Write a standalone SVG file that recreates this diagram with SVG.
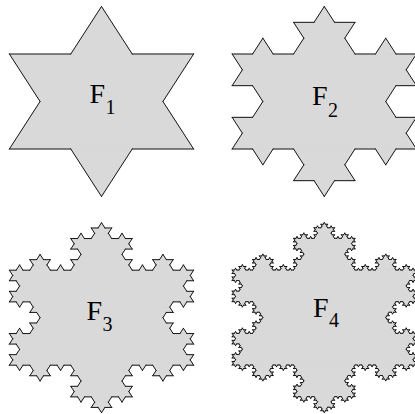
<svg xmlns="http://www.w3.org/2000/svg" xmlns:xlink="http://www.w3.org/1999/xlink" width="415" height="414" viewBox="0 0 415 414">
<style>
.edge{fill:none;stroke:#151515;stroke-width:1;stroke-linecap:round;stroke-linejoin:round}
.area{fill:#d9d9d9;stroke:#d9d9d9;stroke-width:0.6}
.lbl{font-family:"Liberation Serif","Times New Roman",serif;fill:#000}
</style>
<defs>
  <path id="k0" class="edge" d="M0,0H1" vector-effect="non-scaling-stroke"/>
  <g id="k1">
    <use href="#k0" transform="scale(0.333333)"/>
    <use href="#k0" transform="translate(0.333333,0) rotate(-60) scale(0.333333)"/>
    <use href="#k0" transform="translate(0.5,-0.288675) rotate(60) scale(0.333333)"/>
    <use href="#k0" transform="translate(0.666667,0) scale(0.333333)"/>
  </g>
  <g id="k2">
    <use href="#k1" transform="scale(0.333333)"/>
    <use href="#k1" transform="translate(0.333333,0) rotate(-60) scale(0.333333)"/>
    <use href="#k1" transform="translate(0.5,-0.288675) rotate(60) scale(0.333333)"/>
    <use href="#k1" transform="translate(0.666667,0) scale(0.333333)"/>
  </g>
  <g id="k3">
    <use href="#k2" transform="scale(0.333333)"/>
    <use href="#k2" transform="translate(0.333333,0) rotate(-60) scale(0.333333)"/>
    <use href="#k2" transform="translate(0.5,-0.288675) rotate(60) scale(0.333333)"/>
    <use href="#k2" transform="translate(0.666667,0) scale(0.333333)"/>
  </g>
  <g id="k4">
    <use href="#k3" transform="scale(0.333333)"/>
    <use href="#k3" transform="translate(0.333333,0) rotate(-60) scale(0.333333)"/>
    <use href="#k3" transform="translate(0.5,-0.288675) rotate(60) scale(0.333333)"/>
    <use href="#k3" transform="translate(0.666667,0) scale(0.333333)"/>
  </g>
  <polygon id="bump" class="area" points="0.333333,0 0.5,-0.288675 0.666667,0" vector-effect="non-scaling-stroke"/>
  <g id="t1"><use href="#bump"/></g>
  <g id="t2">
    <use href="#bump"/>
    <use href="#t1" transform="scale(0.333333)"/>
    <use href="#t1" transform="translate(0.333333,0) rotate(-60) scale(0.333333)"/>
    <use href="#t1" transform="translate(0.5,-0.288675) rotate(60) scale(0.333333)"/>
    <use href="#t1" transform="translate(0.666667,0) scale(0.333333)"/>
  </g>
  <g id="t3">
    <use href="#bump"/>
    <use href="#t2" transform="scale(0.333333)"/>
    <use href="#t2" transform="translate(0.333333,0) rotate(-60) scale(0.333333)"/>
    <use href="#t2" transform="translate(0.5,-0.288675) rotate(60) scale(0.333333)"/>
    <use href="#t2" transform="translate(0.666667,0) scale(0.333333)"/>
  </g>
  <g id="t4">
    <use href="#bump"/>
    <use href="#t3" transform="scale(0.333333)"/>
    <use href="#t3" transform="translate(0.333333,0) rotate(-60) scale(0.333333)"/>
    <use href="#t3" transform="translate(0.5,-0.288675) rotate(60) scale(0.333333)"/>
    <use href="#t3" transform="translate(0.666667,0) scale(0.333333)"/>
  </g>
  <polygon id="base" class="area" points="0,-1 0.866025,0.5 -0.866025,0.5" vector-effect="non-scaling-stroke"/>
  <g id="s1">
    <use href="#base"/>
    <use href="#t1" transform="translate(0,-1) rotate(60) scale(1.732051)"/>
    <use href="#t1" transform="translate(0.866025,0.5) rotate(180) scale(1.732051)"/>
    <use href="#t1" transform="translate(-0.866025,0.5) rotate(-60) scale(1.732051)"/>
    <use href="#k1" transform="translate(0,-1) rotate(60) scale(1.732051)"/>
    <use href="#k1" transform="translate(0.866025,0.5) rotate(180) scale(1.732051)"/>
    <use href="#k1" transform="translate(-0.866025,0.5) rotate(-60) scale(1.732051)"/>
  </g>
  <g id="s2">
    <use href="#base"/>
    <use href="#t2" transform="translate(0,-1) rotate(60) scale(1.732051)"/>
    <use href="#t2" transform="translate(0.866025,0.5) rotate(180) scale(1.732051)"/>
    <use href="#t2" transform="translate(-0.866025,0.5) rotate(-60) scale(1.732051)"/>
    <use href="#k2" transform="translate(0,-1) rotate(60) scale(1.732051)"/>
    <use href="#k2" transform="translate(0.866025,0.5) rotate(180) scale(1.732051)"/>
    <use href="#k2" transform="translate(-0.866025,0.5) rotate(-60) scale(1.732051)"/>
  </g>
  <g id="s3">
    <use href="#base"/>
    <use href="#t3" transform="translate(0,-1) rotate(60) scale(1.732051)"/>
    <use href="#t3" transform="translate(0.866025,0.5) rotate(180) scale(1.732051)"/>
    <use href="#t3" transform="translate(-0.866025,0.5) rotate(-60) scale(1.732051)"/>
    <use href="#k3" transform="translate(0,-1) rotate(60) scale(1.732051)"/>
    <use href="#k3" transform="translate(0.866025,0.5) rotate(180) scale(1.732051)"/>
    <use href="#k3" transform="translate(-0.866025,0.5) rotate(-60) scale(1.732051)"/>
  </g>
  <g id="s4">
    <use href="#base"/>
    <use href="#t4" transform="translate(0,-1) rotate(60) scale(1.732051)"/>
    <use href="#t4" transform="translate(0.866025,0.5) rotate(180) scale(1.732051)"/>
    <use href="#t4" transform="translate(-0.866025,0.5) rotate(-60) scale(1.732051)"/>
    <use href="#k4" transform="translate(0,-1) rotate(60) scale(1.732051)"/>
    <use href="#k4" transform="translate(0.866025,0.5) rotate(180) scale(1.732051)"/>
    <use href="#k4" transform="translate(-0.866025,0.5) rotate(-60) scale(1.732051)"/>
  </g>
</defs>
<g id="F1">
  <use href="#s1" transform="translate(101.5,101.5) scale(106.4,95)"/>
  <text class="lbl" x="89.5" y="102.5" font-size="28">F<tspan x="105.4" y="113.5" font-size="20">1</tspan></text>
</g>
<g id="F2">
  <use href="#s2" transform="translate(324.3,101.5) scale(106.4,95)"/>
  <text class="lbl" x="312" y="105" font-size="28">F<tspan x="327.9" y="116.5" font-size="20">2</tspan></text>
</g>
<g id="F3">
  <use href="#s3" transform="translate(101.5,317.7) scale(106.4,95)"/>
  <text class="lbl" x="86.5" y="319.5" font-size="28">F<tspan x="102.4" y="330.5" font-size="20">3</tspan></text>
</g>
<g id="F4">
  <use href="#s4" transform="translate(324.3,317.5) scale(106.4,95)"/>
  <text class="lbl" x="313" y="316.5" font-size="28">F<tspan x="328.9" y="326.5" font-size="20">4</tspan></text>
</g>
</svg>
